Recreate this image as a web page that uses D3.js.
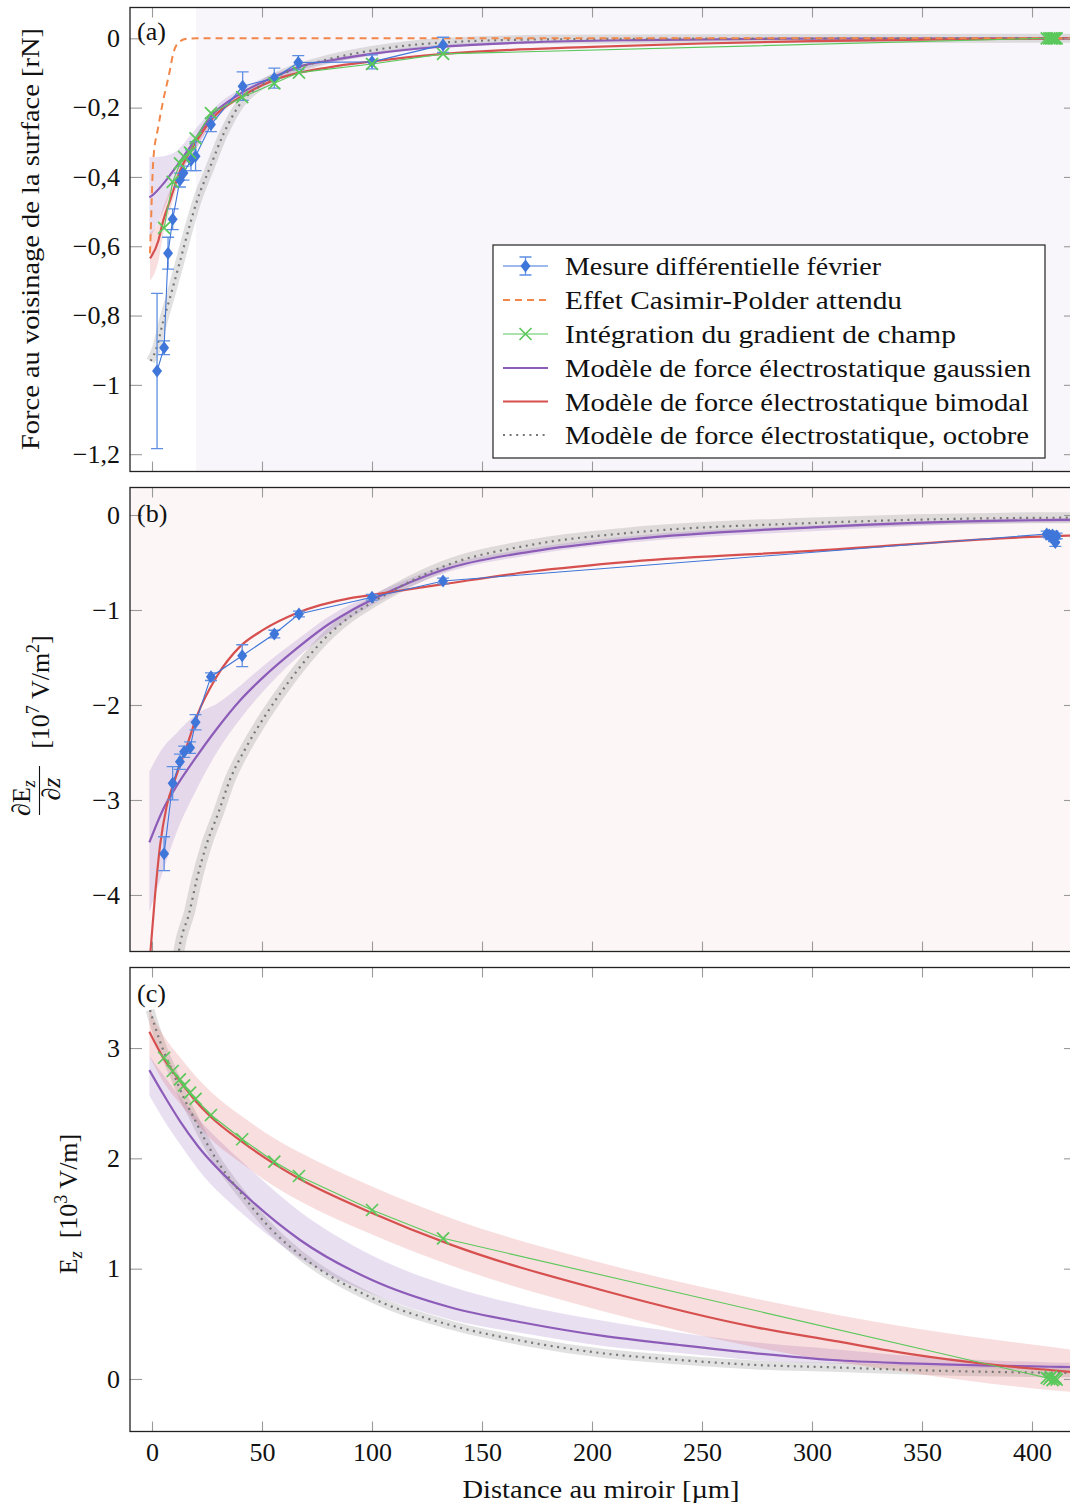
<!DOCTYPE html>
<html><head><meta charset="utf-8">
<script src="https://cdn.jsdelivr.net/npm/d3@7"></script>
<style>
body{margin:0;background:#fff}
svg{display:block}
text{font-family:"Liberation Serif","Times New Roman",serif;fill:#111}
</style></head>
<body><svg id="chart" width="1070" height="1508"></svg>
<script>
// ---------------- DATA ----------------
const xTicks = [0, 50, 100, 150, 200, 250, 300, 350, 400];
const yTicksA = [0, -0.2, -0.4, -0.6, -0.8, -1, -1.2];
const yTicksB = [0, -1, -2, -3, -4];
const yTicksC = [0, 1, 2, 3];

const legendLabels = [
  "Mesure différentielle février",
  "Effet Casimir-Polder attendu",
  "Intégration du gradient de champ",
  "Modèle de force électrostatique gaussien",
  "Modèle de force électrostatique bimodal",
  "Modèle de force électrostatique, octobre"
];

// measurement (février) – panel (a)
const measX_a = [2.3, 5.5, 7.3, 9.4, 12.7, 14.3, 17.7, 19.8, 26.8, 41.2, 55.6, 66.5, 100, 132.3];
const measY_a = [-0.96, -0.893, -0.62, -0.522, -0.409, -0.389, -0.352, -0.340, -0.249, -0.138, -0.115, -0.070, -0.068, -0.019];
const measErr_a = [0.224, 0.02, 0.046, 0.03, 0.02, 0.02, 0.03, 0.042, 0.02, 0.041, 0.029, 0.02, 0.02, 0.022];

// shared distances for gradient measurement / integration
const gradX = [5.5, 9.4, 12.7, 14.6, 17.3, 19.8, 26.8, 41.0, 55.6, 66.8, 100, 132.3];
const clusterX = [406.7, 407.8, 408.6, 409.3, 410, 410.6, 411.2];

// integration of field gradient (green)
const gradY_a = [-0.547, -0.414, -0.361, -0.342, -0.330, -0.289, -0.216, -0.170, -0.130, -0.099, -0.074, -0.045];
const gradCluster_a = [0, 0, 0, 0, 0, 0, 0];
const gradY_c = [2.912, 2.792, 2.716, 2.662, 2.595, 2.540, 2.393, 2.173, 1.970, 1.840, 1.532, 1.275];
const gradCluster_c = [0.01, 0.0, 0.02, -0.01, 0.0, 0.01, -0.005];

// measurement (février) – panel (b)
const measY_b = [-3.565, -2.824, -2.597, -2.492, -2.449, -2.182, -1.702, -1.481, -1.253, -1.042, -0.866, -0.695];
const measErr_b = [0.178, 0.175, 0.08, 0.06, 0.06, 0.08, 0.04, 0.115, 0.04, 0.03, 0.03, 0.03];
const measCluster_b = [-0.20, -0.21, -0.23, -0.21, -0.25, -0.29, -0.22];
const measClusterErr_b = [0.03, 0.03, 0.03, 0.04, 0.03, 0.04, 0.03];

// Casimir-Polder expected (a)
const casimirX = [-0.95, -0.59, -0.14, 0.59, 2.86, 5.14, 7.86, 9.68, 11.95, 15.8, 20.3, 420];
const casimirY = [-0.62, -0.562, -0.467, -0.351, -0.255, -0.178, -0.101, -0.043, -0.013, -0.001, 0, 0];

// gaussian model (a)
const gaussX_a = [-1.2, 0, 5.1, 9.7, 17.3, 26.4, 40.1, 55.3, 68.9, 81.1, 100, 130, 170, 220, 300, 420];
const gaussY_a = [-0.459, -0.454, -0.42, -0.382, -0.314, -0.228, -0.16, -0.112, -0.078, -0.064, -0.045, -0.025, -0.012, -0.005, -0.001, 0];
const gaussBandX_a = [-1.2, 5, 10, 20, 30, 40, 60, 100, 150, 250, 420];
const gaussLo_a = [-0.58, -0.50, -0.42, -0.32, -0.22, -0.172, -0.108, -0.05, -0.02, -0.004, -0.001];
const gaussHi_a = [-0.343, -0.34, -0.33, -0.26, -0.19, -0.148, -0.092, -0.04, -0.012, -0.002, 0.001];

// bimodal model (a)
const bimodX_a = [-0.9, 2.9, 5.1, 8.2, 12.8, 20.4, 27.9, 40.1, 55.3, 81.1, 100, 132.6, 200, 250, 300, 350, 400, 420];
const bimodY_a = [-0.635, -0.584, -0.526, -0.468, -0.382, -0.295, -0.228, -0.170, -0.121, -0.083, -0.067, -0.045, -0.025, -0.015, -0.008, -0.004, -0.001, 0];
const bimodBandX_a = [-0.9, 3, 5, 8, 13, 20, 30, 45];
const bimodLo_a = [-0.70, -0.64, -0.57, -0.50, -0.40, -0.315, -0.226, -0.158];
const bimodHi_a = [-0.56, -0.53, -0.49, -0.44, -0.36, -0.285, -0.21, -0.150];

// octobre model (a)
const octX_a = [-0.6, 2.1, 5.1, 8.2, 12.8, 17.3, 20.4, 26.4, 32.5, 40.1, 50.7, 62.9, 75, 100, 132.6, 180, 250, 420];
const octY_a = [-0.931, -0.893, -0.816, -0.748, -0.642, -0.536, -0.47, -0.372, -0.276, -0.189, -0.131, -0.093, -0.069, -0.035, -0.012, -0.003, -0.001, 0];

// panel (b) models
const bimodX_b = [-1.2, -0.6, 1.37, 3.64, 6.7, 10.5, 15.8, 20.4, 29.5, 40.1, 50.7, 65.9, 90.2, 100.1, 132.4, 172.2, 217.8, 300, 400, 420];
const bimodY_b = [-4.75, -4.567, -4.007, -3.482, -3.062, -2.782, -2.433, -2.118, -1.698, -1.383, -1.207, -1.032, -0.875, -0.840, -0.728, -0.595, -0.490, -0.378, -0.231, -0.215];
const gaussX_b = [-1.2, 5.1, 11.2, 20.4, 29.5, 40.1, 50, 65, 81.1, 90.2, 100.1, 132.4, 172.2, 217.8, 300, 400, 420];
const gaussY_b = [-3.447, -3.097, -2.853, -2.538, -2.25, -1.95, -1.72, -1.42, -1.137, -1.01, -0.892, -0.577, -0.385, -0.255, -0.13, -0.055, -0.05];
const gaussBandX_b = [-1.2, 5, 11, 20, 30, 40, 50, 65, 81, 100, 132, 172, 218, 300, 400, 420];
const gaussLo_b = [-4.18, -3.75, -3.35, -2.90, -2.48, -2.15, -1.87, -1.52, -1.23, -0.95, -0.62, -0.42, -0.29, -0.17, -0.08, -0.075];
const gaussHi_b = [-2.70, -2.45, -2.30, -2.10, -1.98, -1.80, -1.60, -1.33, -1.06, -0.84, -0.54, -0.35, -0.22, -0.11, -0.035, -0.03];
const octX_b = [10, 12.4, 17.0, 20.4, 24.6, 30.2, 35.5, 43.1, 52.3, 62.9, 81.1, 90.2, 100.1, 111.5, 132.4, 172.2, 217.8, 300, 400, 420];
const octY_b = [-5.0, -4.567, -4.182, -3.832, -3.482, -3.132, -2.782, -2.433, -2.082, -1.732, -1.242, -1.067, -0.92, -0.77, -0.542, -0.315, -0.186, -0.085, -0.03, -0.028];

// panel (c) models
const bimodX_c = [-1.2, 5.5, 9.4, 12.7, 19.8, 26.8, 41, 55.6, 67, 100, 135.8, 205.5, 275.2, 310.1, 344.9, 379.9, 409.1, 420];
const bimodY_c = [3.148, 2.90, 2.79, 2.70, 2.52, 2.375, 2.15, 1.95, 1.815, 1.505, 1.218, 0.80, 0.466, 0.345, 0.225, 0.134, 0.079, 0.06];
const bimodBandX_c = [-1.2, 5, 13, 21, 27, 41, 55, 67, 100, 136, 205, 275, 345, 409, 420];
const bimodLo_c = [2.928, 2.70, 2.49, 2.30, 2.17, 1.95, 1.755, 1.615, 1.31, 1.028, 0.615, 0.286, 0.055, -0.101, -0.12];
const bimodHi_c = [3.348, 3.12, 2.91, 2.72, 2.60, 2.38, 2.19, 2.055, 1.745, 1.458, 1.05, 0.726, 0.465, 0.289, 0.26];
const gaussX_c = [-1.2, 5.1, 12.7, 20.9, 40.9, 67.3, 100, 135.5, 170.2, 205, 239.8, 274.5, 309.4, 344.1, 408.2, 420];
const gaussY_c = [2.80, 2.583, 2.338, 2.11, 1.695, 1.26, 0.897, 0.65, 0.505, 0.39, 0.308, 0.233, 0.172, 0.142, 0.111, 0.108];
const gaussBandX_c = [-1.2, 5, 13, 21, 41, 67, 100, 135.5, 170, 205, 240, 275, 310, 345, 409, 420];
const gaussLo_c = [2.57, 2.36, 2.12, 1.90, 1.50, 1.10, 0.77, 0.54, 0.41, 0.30, 0.235, 0.17, 0.14, 0.118, 0.088, 0.085];
const gaussHi_c = [2.93, 2.76, 2.55, 2.36, 1.97, 1.52, 1.12, 0.84, 0.66, 0.527, 0.42, 0.33, 0.27, 0.209, 0.15, 0.145];
const octX_c = [-0.9, 1.4, 5.1, 9.7, 14.2, 18.8, 23.3, 29.4, 40, 53.6, 67.3, 100, 135.5, 170.2, 205, 239.8, 274.5, 309.4, 344.1, 408.2, 420];
const octY_c = [3.345, 3.193, 2.982, 2.771, 2.559, 2.377, 2.196, 1.985, 1.695, 1.369, 1.124, 0.734, 0.489, 0.338, 0.233, 0.172, 0.127, 0.106, 0.082, 0.057, 0.055];

// ---------------- STYLE ----------------
const C = {
  blue: "#3f76d9", blueErr: "#5e8fe3", orange: "#f2874a", green: "#5bc85b",
  purple: "#8c5cb8", red: "#d6504f", dot: "#777777",
  purpleBand: "rgba(148,103,189,0.21)", redBand: "rgba(214,60,60,0.17)", greyBand: "rgba(120,115,115,0.21)"
};
const FS = 26;

const svg = d3.select("#chart");
const x = d3.scaleLinear().domain([-10, 420]).range([130, 1076]);
const zip = (a, b) => a.map((v, i) => [v, b[i]]);
const fmt = v => v === 0 ? "0" : (v < 0 ? "\u2212" : "") + String(Math.abs(v)).replace(".", ",");

function makePanel(id, top, bottom, dom) {
  const y = d3.scaleLinear().domain(dom).range([bottom, top]);
  svg.append("clipPath").attr("id", "clip" + id).append("rect")
    .attr("x", 130).attr("y", top).attr("width", 946).attr("height", bottom - top);
  const g = svg.append("g").attr("clip-path", `url(#clip${id})`);
  return { y, g, top, bottom };
}
function curvePath(g, y, xs, ys, stroke, width, dash, curve) {
  return g.append("path")
    .attr("d", d3.line().x(d => x(d[0])).y(d => y(d[1])).curve(curve || d3.curveMonotoneX)(zip(xs, ys)))
    .attr("fill", "none").attr("stroke", stroke).attr("stroke-width", width)
    .attr("stroke-dasharray", dash || null);
}
function band(g, y, xs, lo, hi, fill) {
  const d = xs.map((v, i) => ({ x: v, lo: lo[i], hi: hi[i] }));
  g.append("path").attr("d", d3.area().x(d => x(d.x)).y0(d => y(d.lo)).y1(d => y(d.hi)).curve(d3.curveMonotoneX)(d))
    .attr("fill", fill);
}
function dotted(g, y, xs, ys, bandW) {
  curvePath(g, y, xs, ys, C.greyBand, bandW).attr("stroke-linecap", "butt");
}
function dottedLine(g, y, xs, ys) {
  curvePath(g, y, xs, ys, C.dot, 2.2, "2 4.6");
}
function diamonds(g, y, xs, ys) {
  g.selectAll(null).data(zip(xs, ys)).enter().append("path")
    .attr("d", "M0,-6.5L5,0L0,6.5L-5,0Z")
    .attr("transform", d => `translate(${x(d[0])},${y(d[1])})`)
    .attr("fill", C.blue);
}
function errorBars(g, y, xs, ys, es) {
  xs.forEach((v, i) => {
    const px = x(v), y1 = y(ys[i] - es[i]), y2 = y(ys[i] + es[i]);
    const p = `M${px},${y1}V${y2}M${px - 6},${y1}H${px + 6}M${px - 6},${y2}H${px + 6}`;
    g.append("path").attr("d", p).attr("stroke", C.blueErr).attr("stroke-width", 1.3).attr("fill", "none");
  });
}
function crosses(g, y, xs, ys) {
  g.selectAll(null).data(zip(xs, ys)).enter().append("path")
    .attr("d", "M-6,-6L6,6M-6,6L6,-6")
    .attr("transform", d => `translate(${x(d[0])},${y(d[1])})`)
    .attr("stroke", C.green).attr("stroke-width", 1.7).attr("fill", "none");
}
function axes(p, ticks, showX) {
  const { y, top, bottom } = p;
  const style = sel => {
    sel.select(".domain").remove();
    sel.selectAll(".tick line").attr("stroke", "#9a9a9a").attr("stroke-width", 1.1);
    sel.selectAll(".tick text").style("font-family", '"Liberation Serif",serif').style("font-size", FS + "px").attr("fill", "#111");
  };
  svg.append("g").attr("transform", "translate(130,0)")
    .call(d3.axisLeft(y).tickValues(ticks).tickSize(-12).tickPadding(10).tickFormat(fmt)).call(style);
  svg.append("g").attr("transform", "translate(1076,0)")
    .call(d3.axisRight(y).tickValues(ticks).tickSize(-12).tickFormat("")).call(style);
  svg.append("g").attr("transform", `translate(0,${top})`)
    .call(d3.axisTop(x).tickValues(xTicks).tickSize(-10).tickFormat("")).call(style);
  svg.append("g").attr("transform", `translate(0,${bottom})`)
    .call(d3.axisBottom(x).tickValues(xTicks).tickSize(-10).tickPadding(11).tickFormat(showX ? d3.format("d") : "")).call(style);
  svg.append("rect").attr("x", 130).attr("y", top).attr("width", 946).attr("height", bottom - top)
    .attr("fill", "none").attr("stroke", "#222").attr("stroke-width", 1.3);
}

// ---------------- PANEL (a) ----------------
const A = makePanel("a", 7.5, 471.5, [-1.25, 0.0889]);
A.g.append("rect").attr("x", 130).attr("y", 7.5).attr("width", 946).attr("height", 464).attr("fill", "#fff");
A.g.append("rect").attr("x", x(20)).attr("y", 7.5).attr("width", 1076 - x(20)).attr("height", 464).attr("fill", "#f8f6fa");
dotted(A.g, A.y, octX_a, octY_a, 9);
band(A.g, A.y, gaussBandX_a, gaussLo_a, gaussHi_a, C.purpleBand);
band(A.g, A.y, bimodBandX_a, bimodLo_a, bimodHi_a, C.redBand);
curvePath(A.g, A.y, gaussX_a, gaussY_a, C.purple, 2.2);
curvePath(A.g, A.y, bimodX_a, bimodY_a, C.red, 2.2);
dottedLine(A.g, A.y, octX_a, octY_a);
curvePath(A.g, A.y, casimirX, casimirY, C.orange, 2, "7 5");
errorBars(A.g, A.y, measX_a, measY_a, measErr_a);
curvePath(A.g, A.y, measX_a, measY_a, C.blue, 1.1, null, d3.curveLinear);
diamonds(A.g, A.y, measX_a, measY_a);
curvePath(A.g, A.y, gradX.concat(clusterX), gradY_a.concat(gradCluster_a), C.green, 1.1, null, d3.curveLinear);
crosses(A.g, A.y, gradX.concat(clusterX), gradY_a.concat(gradCluster_a));
axes(A, yTicksA, false);

// ---------------- PANEL (b) ----------------
const B = makePanel("b", 487.5, 951.5, [-4.595, 0.2895]);
B.g.append("rect").attr("x", 130).attr("y", 487.5).attr("width", 946).attr("height", 464).attr("fill", "#fcf6f6");
dotted(B.g, B.y, octX_b, octY_b, 11);
band(B.g, B.y, gaussBandX_b, gaussLo_b, gaussHi_b, C.purpleBand);
curvePath(B.g, B.y, gaussX_b, gaussY_b, C.purple, 2.2);
dottedLine(B.g, B.y, octX_b, octY_b);
curvePath(B.g, B.y, bimodX_b, bimodY_b, C.red, 2.2);
errorBars(B.g, B.y, gradX.concat(clusterX), measY_b.concat(measCluster_b), measErr_b.concat(measClusterErr_b));
curvePath(B.g, B.y, gradX.concat(clusterX), measY_b.concat(measCluster_b), C.blue, 1.1, null, d3.curveLinear);
diamonds(B.g, B.y, gradX.concat(clusterX), measY_b.concat(measCluster_b));
axes(B, yTicksB, false);

// ---------------- PANEL (c) ----------------
const Cp = makePanel("c", 967.5, 1431.5, [-0.476, 3.730]);
Cp.g.append("rect").attr("x", 130).attr("y", 967.5).attr("width", 946).attr("height", 464).attr("fill", "#fff");
dotted(Cp.g, Cp.y, octX_c, octY_c, 9);
band(Cp.g, Cp.y, gaussBandX_c, gaussLo_c, gaussHi_c, C.purpleBand);
band(Cp.g, Cp.y, bimodBandX_c, bimodLo_c, bimodHi_c, C.redBand);
curvePath(Cp.g, Cp.y, gaussX_c, gaussY_c, C.purple, 2.2);
dottedLine(Cp.g, Cp.y, octX_c, octY_c);
curvePath(Cp.g, Cp.y, bimodX_c, bimodY_c, C.red, 2.2);
curvePath(Cp.g, Cp.y, gradX.concat(clusterX), gradY_c.concat(gradCluster_c), C.green, 1.1, null, d3.curveLinear);
crosses(Cp.g, Cp.y, gradX.concat(clusterX), gradY_c.concat(gradCluster_c));
axes(Cp, yTicksC, true);

// ---------------- PANEL LABELS ----------------
[["(a)", 40], ["(b)", 522], ["(c)", 1002]].forEach(([t, yy]) =>
  svg.append("text").attr("x", 137).attr("y", yy).style("font-size", FS + "px").text(t));

// ---------------- LEGEND ----------------
const L = svg.append("g");
L.append("rect").attr("x", 493).attr("y", 245).attr("width", 552).attr("height", 213)
  .attr("fill", "#fff").attr("stroke", "#222").attr("stroke-width", 1.2);
const legW = [316, 337, 391, 466, 464, 464];
const legY = [266, 300, 334, 368, 401.5, 435];
legendLabels.forEach((t, i) => {
  L.append("text").attr("x", 565).attr("y", legY[i] + 9).style("font-size", FS + "px")
    .attr("textLength", legW[i]).attr("lengthAdjust", "spacingAndGlyphs").text(t);
});
const lx1 = 503, lx2 = 548, lxc = 525.5;
L.append("path").attr("d", `M${lx1},${legY[0]}H${lx2}`).attr("stroke", C.blue).attr("stroke-width", 1.1);
L.append("path").attr("d", `M${lxc},${legY[0] - 9}V${legY[0] + 9}M${lxc - 6},${legY[0] - 9}H${lxc + 6}M${lxc - 6},${legY[0] + 9}H${lxc + 6}`)
  .attr("stroke", C.blueErr).attr("stroke-width", 1.3);
L.append("path").attr("d", "M0,-6.5L5,0L0,6.5L-5,0Z").attr("transform", `translate(${lxc},${legY[0]})`).attr("fill", C.blue);
L.append("path").attr("d", `M${lx1},${legY[1]}H${lx2}`).attr("stroke", C.orange).attr("stroke-width", 2).attr("stroke-dasharray", "7 5");
L.append("path").attr("d", `M${lx1},${legY[2]}H${lx2}`).attr("stroke", C.green).attr("stroke-width", 1.1);
L.append("path").attr("d", "M-6,-6L6,6M-6,6L6,-6").attr("transform", `translate(${lxc},${legY[2]})`)
  .attr("stroke", C.green).attr("stroke-width", 1.7);
L.append("path").attr("d", `M${lx1},${legY[3]}H${lx2}`).attr("stroke", C.purple).attr("stroke-width", 2.2);
L.append("path").attr("d", `M${lx1},${legY[4]}H${lx2}`).attr("stroke", C.red).attr("stroke-width", 2.2);
L.append("path").attr("d", `M${lx1},${legY[5]}H${lx2}`).attr("stroke", C.dot).attr("stroke-width", 2.2).attr("stroke-dasharray", "2 4.6");

// ---------------- AXIS TITLES ----------------
svg.append("text").attr("transform", "translate(39,239) rotate(-90)").attr("text-anchor", "middle")
  .style("font-size", FS + "px").attr("textLength", 422).attr("lengthAdjust", "spacingAndGlyphs")
  .text("Force au voisinage de la surface [rN]");

const tb = svg.append("text").attr("transform", "translate(49,692) rotate(-90)").attr("text-anchor", "middle")
  .style("font-size", FS + "px");
tb.append("tspan").text("[10");
tb.append("tspan").attr("dy", -10).style("font-size", "18px").text("7");
tb.append("tspan").attr("dy", 10).text(" V/m");
tb.append("tspan").attr("dy", -10).style("font-size", "18px").text("2");
tb.append("tspan").attr("dy", 10).text("]");
const num = svg.append("text").attr("transform", "translate(30,798) rotate(-90)").attr("text-anchor", "middle")
  .style("font-size", FS + "px");
num.append("tspan").text("\u2202E");
num.append("tspan").attr("dy", 5).style("font-size", "18px").style("font-style", "italic").text("z");
svg.append("path").attr("d", "M39.5,766V815").attr("stroke", "#111").attr("stroke-width", 1.1);
svg.append("text").attr("transform", "translate(60,789) rotate(-90)").attr("text-anchor", "middle")
  .style("font-size", FS + "px").html('\u2202<tspan style="font-style:italic">z</tspan>');

const tc = svg.append("text").attr("transform", "translate(77,1204) rotate(-90)").attr("text-anchor", "middle")
  .style("font-size", FS + "px");
tc.append("tspan").text("E");
tc.append("tspan").attr("dy", 5).style("font-size", "18px").style("font-style", "italic").text("z");
tc.append("tspan").attr("dy", -5).text("\u2002[10");
tc.append("tspan").attr("dy", -10).style("font-size", "18px").text("3");
tc.append("tspan").attr("dy", 10).text(" V/m]");

svg.append("text").attr("x", 601).attr("y", 1498).attr("text-anchor", "middle")
  .style("font-size", FS + "px").attr("textLength", 277).attr("lengthAdjust", "spacingAndGlyphs")
  .text("Distance au miroir [\u00b5m]");
</script></body></html>
